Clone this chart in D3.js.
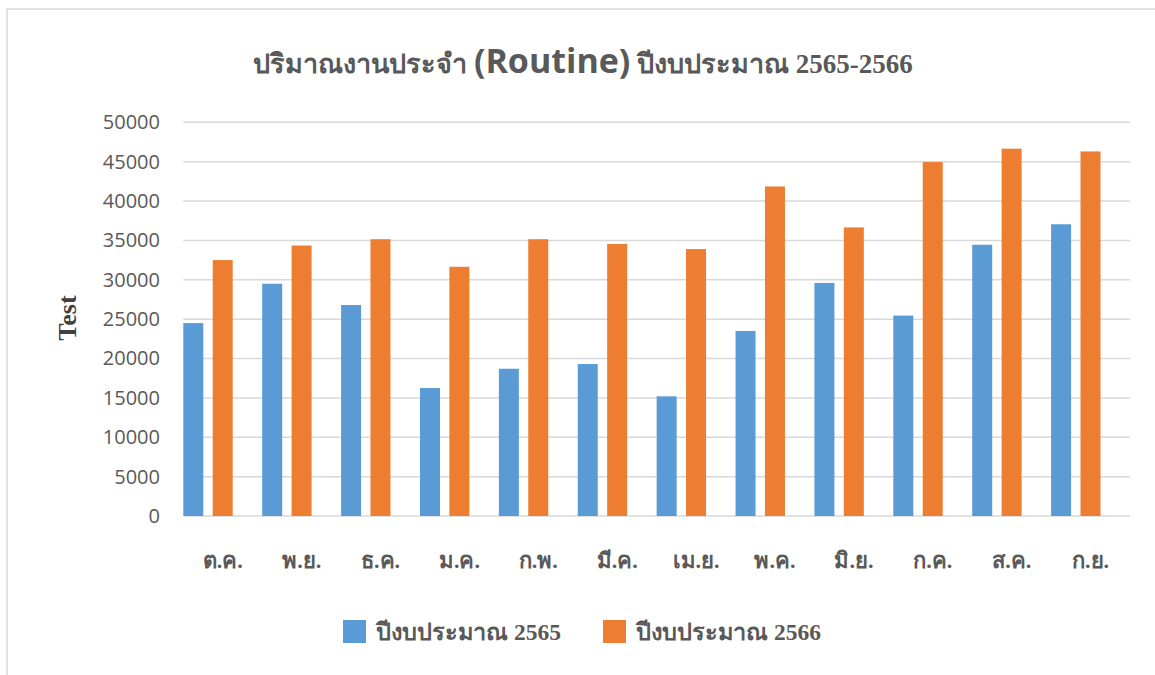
<!DOCTYPE html>
<html>
<head>
<meta charset="utf-8">
<script src="https://cdn.jsdelivr.net/npm/d3@7"></script>
<style>
  html, body { margin: 0; padding: 0; background: #ffffff; }
  svg { display: block; }
</style>
</head>
<body>
<svg id="chart" width="1155" height="675"></svg>
<script>
const categories = ["ต.ค.", "พ.ย.", "ธ.ค.", "ม.ค.", "ก.พ.", "มี.ค.", "เม.ย.", "พ.ค.", "มิ.ย.", "ก.ค.", "ส.ค.", "ก.ย."];
const seriesNames = ["ปีงบประมาณ 2565", "ปีงบประมาณ 2566"];
const values2565 = [24500, 29500, 26800, 16250, 18700, 19300, 15200, 23500, 29600, 25450, 34450, 37050];
const values2566 = [32500, 34350, 35150, 31650, 35150, 34550, 33900, 41850, 36650, 44950, 46650, 46300];
const yTicks = [0, 5000, 10000, 15000, 20000, 25000, 30000, 35000, 40000, 45000, 50000];
const colors = ["#5b9bd5", "#ed7d31"];

const svg = d3.select("#chart");
const W = 1155, H = 675;
const plot = { left: 183.3, right: 1130, top: 122.3, bottom: 516 };

// outer frame (left + top only visible)
svg.append("path")
  .attr("d", `M7,${H} L7,9 L${W},9`)
  .attr("fill", "none").attr("stroke", "#d9d9d9").attr("stroke-width", 1.5);

const y = d3.scaleLinear().domain([0, 50000]).range([plot.bottom, plot.top]);
const x0 = d3.scaleBand().domain(categories).range([plot.left, plot.right]).padding(0);
const x1 = d3.scaleBand().domain(seriesNames).range([0, 49.4]).paddingInner(0.32).paddingOuter(0);

// gridlines
svg.append("g").selectAll("line").data(yTicks).join("line")
  .attr("x1", plot.left).attr("x2", plot.right)
  .attr("y1", d => y(d)).attr("y2", d => y(d))
  .attr("stroke", "#d9d9d9").attr("stroke-width", 1.5);

// y axis labels via d3 axis
const yAxis = d3.axisLeft(y).tickValues(yTicks).tickFormat(d3.format("d")).tickSize(0).tickPadding(0);
const gy = svg.append("g").attr("transform", `translate(160,0)`).call(yAxis);
gy.select(".domain").remove();
gy.selectAll("text")
  .attr("font-family", "'Open Sans', sans-serif")
  .attr("font-size", 20).attr("fill", "#595959");

// bars
const data = categories.map((c, i) => ({ cat: c, vals: [values2565[i], values2566[i]] }));
const groups = svg.append("g").selectAll("g").data(data).join("g")
  .attr("transform", d => `translate(${x0(d.cat)},0)`);
groups.selectAll("rect").data(d => d.vals.map((v, k) => ({ k, v }))).join("rect")
  .attr("x", d => x1(seriesNames[d.k]))
  .attr("width", x1.bandwidth())
  .attr("y", d => y(d.v))
  .attr("height", d => y(0) - y(d.v))
  .attr("fill", d => colors[d.k]);

// x labels
const xAxis = d3.axisBottom(x0).tickSize(0).tickPadding(0);
const gx = svg.append("g").attr("transform", `translate(0,560)`).call(xAxis);
gx.select(".domain").remove();
gx.selectAll("text")
  .attr("dy", "0.35em")
  .attr("font-family", "'Liberation Serif', serif")
  .attr("font-weight", "bold")
  .attr("font-size", 22).attr("fill", "#595959");

// y title
svg.append("text")
  .attr("transform", "translate(76,318) rotate(-90)")
  .attr("text-anchor", "middle")
  .attr("font-family", "'Liberation Serif', serif")
  .attr("font-weight", "bold").attr("font-size", 26).attr("fill", "#404040")
  .text("Test");

// title
const title = svg.append("text")
  .attr("x", 583).attr("y", 73)
  .attr("text-anchor", "middle").attr("fill", "#595959")
  .attr("font-family", "'Liberation Serif', serif").attr("font-weight", "bold").attr("font-size", 27);
title.append("tspan").text("ปริมาณงานประจำ ");
title.append("tspan").attr("font-family", "'Open Sans', sans-serif").attr("font-size", 34).text("(Routine)");
title.append("tspan").text(" ปีงบประมาณ 2565-2566");

// legend
const legendX = [343, 603];
const lg = svg.append("g").selectAll("g").data(seriesNames).join("g")
  .attr("transform", (d, i) => `translate(${legendX[i]},620)`);
lg.append("rect").attr("width", 23).attr("height", 23).attr("fill", (d, i) => colors[i]);
lg.append("text").attr("x", 33).attr("y", 12).attr("dy", "0.35em")
  .attr("font-family", "'Liberation Serif', serif").attr("font-weight", "bold")
  .attr("font-size", 23.5).attr("fill", "#595959")
  .text(d => d);
</script>
</body>
</html>
